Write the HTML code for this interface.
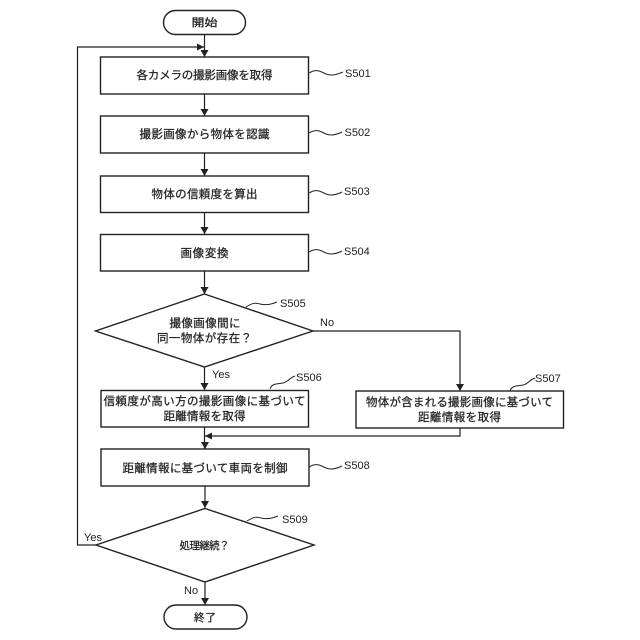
<!DOCTYPE html>
<html lang="ja">
<head>
<meta charset="utf-8">
<style>
html,body{margin:0;padding:0;background:#fff}
svg{display:block}
text{font-family:"Liberation Sans","Noto Sans CJK JP",sans-serif;fill:#222}
.j{font-size:11.5px;text-anchor:middle;stroke:#222;stroke-width:.25}
.l{font-size:11px}
.s{fill:#fff;stroke:#222;stroke-width:1.4}
.c{fill:none;stroke:#222;stroke-width:1.2}
.q{fill:none;stroke:#222;stroke-width:1}
.a{fill:#222;stroke:none}
</style>
</head>
<body>
<svg width="640" height="640" viewBox="0 0 640 640" xmlns="http://www.w3.org/2000/svg">
<!-- connectors -->
<path class="c" d="M204.500 34V57M204.500 94V116M204.500 153V176M204.500 212V234M204.500 271V294M204.500 367V390M204.500 427V449M205 486V508M205 582V605"/>
<path class="c" d="M96 545H77.500V47H204"/>
<path class="c" d="M313 331H460V391"/>
<path class="c" d="M460 428V436H205"/>
<!-- arrowheads -->
<path class="a" d="M200.500 50h8l-4 7zM200.500 109h8l-4 7zM200.500 169h8l-4 7zM200.500 227h8l-4 7zM200.500 287h8l-4 7zM200.500 383h8l-4 7zM201 442h8l-4 7zM201 501h8l-4 7zM201 598h8l-4 7zM456 384h8l-4 7z"/>
<path class="a" d="M204 47l-7-3.500v7zM205 436l7-3.500v7z"/>
<!-- shapes -->
<rect class="s" x="163.500" y="10.500" width="82" height="24" rx="12"/>
<rect class="s" x="100.500" y="57" width="208" height="37"/>
<rect class="s" x="100.500" y="116" width="208" height="37"/>
<rect class="s" x="100.500" y="176" width="208" height="36.500"/>
<rect class="s" x="100.500" y="234.500" width="208" height="36.500"/>
<polygon class="s" points="204.500,294 313,331 204.500,367 95.500,331"/>
<rect class="s" x="101" y="390.500" width="207.500" height="36.500"/>
<rect class="s" x="356" y="391" width="207.500" height="37"/>
<rect class="s" x="101" y="449" width="208" height="37"/>
<polygon class="s" points="205,508.500 314,545 205,582 96,545"/>
<rect class="s" x="164" y="605" width="83" height="24" rx="12"/>
<!-- leader squiggles -->
<path class="q" d="M309 73c8-5 12-1 17 1s10 1 17-2"/>
<path class="q" d="M309 133c8-5 12-1 17 1s10 1 16-2"/>
<path class="q" d="M309 193c8-5 12-1 17 1s10 1 16-2"/>
<path class="q" d="M309 252c8-5 12-1 17 1s10 1 16-2"/>
<path class="q" d="M246 307c8-5 10-4 14-3s10 1 17-2"/>
<path class="q" d="M270 389c2-6 8-5 13-6s6-5 12-7"/>
<path class="q" d="M510 391c2-6 8-5 13-6s6-5 12-7"/>
<path class="q" d="M309 467c8-5 12-1 17 1s10 1 16-2"/>
<path class="q" d="M247 521c8-5 10-4 14-3s10 1 17-2"/>
<!-- step labels -->
<text class="l" x="345" y="77">S501</text>
<text class="l" x="344.500" y="136">S502</text>
<text class="l" x="344" y="195">S503</text>
<text class="l" x="344" y="255">S504</text>
<text class="l" x="280" y="307">S505</text>
<text class="l" x="296" y="381">S506</text>
<text class="l" x="535" y="382">S507</text>
<text class="l" x="344" y="469">S508</text>
<text class="l" x="282" y="523">S509</text>
<!-- yes/no -->
<text class="l" x="320" y="326">No</text>
<text class="l" x="212" y="378">Yes</text>
<text class="l" x="84" y="541">Yes</text>
<text class="l" x="184" y="594">No</text>
<!-- box text -->
<text class="j" x="204.500" y="26" textLength="26" lengthAdjust="spacingAndGlyphs" style="font-size:10.500px">開始</text>
<text class="j" x="204.500" y="79" textLength="136">各カメラの撮影画像を取得</text>
<text class="j" x="204.500" y="138" textLength="130">撮影画像から物体を認識</text>
<text class="j" x="204.500" y="198" textLength="106">物体の信頼度を算出</text>
<text class="j" x="204.500" y="257" textLength="48">画像変換</text>
<text class="j" x="205" y="327" textLength="71">撮像画像間に</text>
<text class="j" x="204.500" y="342" textLength="95">同一物体が存在？</text>
<text class="j" x="204.500" y="405" textLength="202">信頼度が高い方の撮影画像に基づいて</text>
<text class="j" x="204.500" y="420" textLength="82">距離情報を取得</text>
<text class="j" x="459.500" y="406" textLength="187">物体が含まれる撮影画像に基づいて</text>
<text class="j" x="459.500" y="421" textLength="83">距離情報を取得</text>
<text class="j" x="205" y="472" textLength="165">距離情報に基づいて車両を制御</text>
<text class="j" x="204.500" y="549" textLength="50" style="font-size:10.500px">処理継続？</text>
<text class="j" x="205" y="621" textLength="22" style="font-size:10.500px">終了</text>
</svg>
</body>
</html>
